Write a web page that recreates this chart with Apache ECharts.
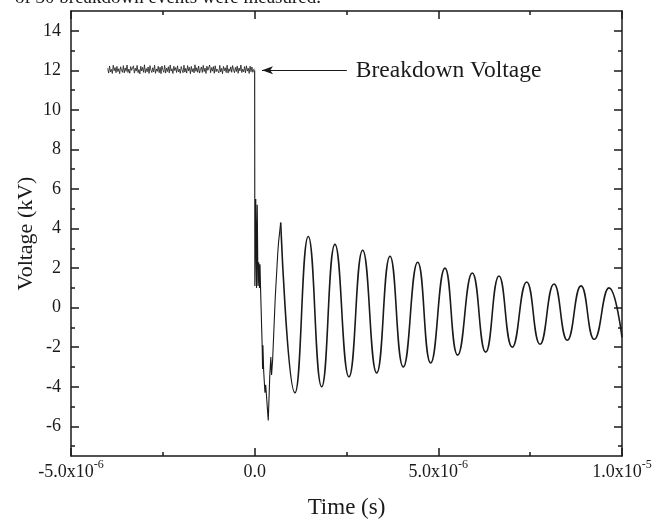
<!DOCTYPE html>
<html>
<head>
<meta charset="utf-8">
<script src="https://cdn.jsdelivr.net/npm/echarts@6/dist/echarts.min.js"></script>
<style>
  html, body { margin: 0; padding: 0; background: #fff; }
  #chart { width: 655px; height: 521px; }
</style>
</head>
<body>
<div id="chart"></div>
<script>
// time in microseconds, voltage in kV

// scope record before breakdown, sampled every noiseStep us from noiseStart
var noiseStart = -4.0;
var noiseStep = 0.025;
var noiseVolt = [
  12.10, 11.86, 12.22, 11.92, 12.05, 11.84, 12.26, 11.98, 12.14, 11.88,
  12.20, 11.94, 12.08, 11.83, 12.18, 12.02, 11.90, 12.24, 11.87, 12.12,
  11.95, 12.27, 11.89, 12.06, 11.85, 12.19, 12.00, 11.91, 12.23, 11.86,
  12.11, 11.96, 12.25, 11.88, 12.04, 11.82, 12.21, 11.97, 12.15, 11.90,
  12.28, 11.87, 12.09, 11.93, 12.17, 11.84, 12.24, 12.01, 11.89, 12.13,
  11.92, 12.26, 11.85, 12.07, 11.95, 12.20, 11.88, 12.16, 11.83, 12.22,
  12.03, 11.90, 12.25, 11.86, 12.12, 11.94, 12.18, 11.87, 12.27, 11.96,
  12.08, 11.84, 12.21, 11.99, 12.14, 11.89, 12.23, 11.92, 12.06, 11.85,
  12.19, 12.02, 11.88, 12.26, 11.91, 12.10, 11.86, 12.24, 11.97, 12.15,
  11.83, 12.20, 11.93, 12.09, 11.87, 12.28, 11.95, 12.13, 11.90, 12.22,
  11.86, 12.05, 12.17, 11.89, 12.25, 11.94, 12.11, 11.84, 12.21, 12.00,
  11.91, 12.27, 11.88, 12.14, 11.96, 12.19, 11.85, 12.23, 11.93, 12.07,
  12.16, 11.87, 12.25, 11.92, 12.10, 11.83, 12.20, 11.98, 12.13, 11.89,
  12.26, 11.86, 12.08, 11.95, 12.18, 11.90, 12.24, 12.02, 11.88, 12.15,
  11.94, 12.22, 11.85, 12.12, 11.97, 12.27, 11.89, 12.06, 11.92, 12.19,
  11.87, 12.23, 11.96, 12.11, 11.84, 12.21, 11.93, 12.17, 11.90, 12.05,
  12.08
];

// collapse and first transient
var dropTime = [0.0, 0.005, 0.03, 0.05, 0.07, 0.09, 0.11, 0.13, 0.145, 0.16,
  0.19, 0.205, 0.215, 0.225, 0.245, 0.28, 0.30, 0.37, 0.41, 0.44, 0.46, 0.49,
  0.56, 0.63, 0.65, 0.708];
var dropVolt = [12.0, 1.1, 5.5, 1.0, 5.2, 1.1, 2.3, 1.0, 2.2, 1.0,
  -1.0, -2.0, -3.1, -1.9, -3.2, -4.3, -3.9, -5.7, -3.5, -2.5, -3.4, -2.6,
  0.5, 2.8, 3.3, 4.3];

// damped ringing: peaks and troughs
var ringTime = [0.708, 1.097, 1.459, 1.824, 2.186, 2.567, 2.940, 3.322, 3.684, 4.046,
  4.438, 4.792, 5.181, 5.527, 5.924, 6.289, 6.651, 7.013, 7.405, 7.768,
  8.149, 8.511, 8.884, 9.246, 9.646, 10.0];
var ringVolt = [4.3, -4.3, 3.6, -4.0, 3.2, -3.5, 2.9, -3.3, 2.6, -3.0,
  2.3, -2.8, 2.0, -2.4, 1.75, -2.25, 1.6, -2.0, 1.3, -1.85,
  1.2, -1.65, 1.1, -1.6, 1.0, -1.5];

// axes
var xTickValues = [-5, 0, 5, 10];
var xTickMantissa = ['-5.0x10', '0.0', '5.0x10', '1.0x10'];
var xTickExp = ['-6', '', '-6', '-5'];
var yMajorTicks = [-6, -4, -2, 0, 2, 4, 6, 8, 10, 12, 14];
var yMinorTicks = [-7, -5, -3, -1, 1, 3, 5, 7, 9, 11, 13];

var arrowFrom = [0.2, 12];
var arrowTo = [2.51, 12];

var FONT = '"Liberation Serif", "Times New Roman", serif';
var INK = '#1a1a1a';

function zip(xs, ys) {
  var out = [];
  for (var i = 0; i < xs.length; i++) out.push([xs[i], ys[i]]);
  return out;
}

var noiseData = [];
for (var i = 0; i < noiseVolt.length; i++) {
  noiseData.push([noiseStart + i * noiseStep, noiseVolt[i]]);
}

function xLabel(v) {
  var idx = xTickValues.indexOf(Math.round(v));
  if (idx < 0) return '';
  var s = '{m|' + xTickMantissa[idx] + '}';
  if (xTickExp[idx]) s += '{e|' + xTickExp[idx] + '}';
  return s;
}

function lineDef(show) {
  return { show: show, onZero: false, lineStyle: { color: INK, width: 1.5 } };
}

function xAxisDef(pos, labels) {
  return {
    type: 'value', position: pos, min: -5, max: 10, interval: 5,
    axisLine: lineDef(true),
    axisTick: { show: true, inside: true, length: 8, lineStyle: { color: INK, width: 1.5 } },
    minorTick: { show: true, splitNumber: 2, length: 4, lineStyle: { color: INK, width: 1.5 } },
    splitLine: { show: false },
    minorSplitLine: { show: false },
    axisLabel: labels ? {
      show: true, margin: 3, formatter: xLabel,
      rich: {
        m: { fontFamily: FONT, fontSize: 18, color: INK, lineHeight: 22, verticalAlign: 'bottom' },
        e: { fontFamily: FONT, fontSize: 12, color: INK, lineHeight: 22, verticalAlign: 'top' }
      }
    } : { show: false }
  };
}

function yAxisDef(pos, ticks, len, showLine, labels) {
  return {
    type: 'value', position: pos, min: -7.5, max: 15,
    axisLine: lineDef(showLine),
    axisTick: { show: true, inside: true, length: len, customValues: ticks,
      lineStyle: { color: INK, width: 1.5 } },
    splitLine: { show: false },
    axisLabel: labels ? {
      show: true, customValues: ticks, margin: 10,
      fontFamily: FONT, fontSize: 18, color: INK
    } : { show: false }
  };
}

var chart = echarts.init(document.getElementById('chart'), null, { renderer: 'canvas' });

var xBottom = xAxisDef('bottom', true);
xBottom.name = 'Time (s)';
xBottom.nameLocation = 'middle';
xBottom.nameGap = 40;
xBottom.nameMoveOverlap = false;
xBottom.nameTextStyle = { fontFamily: FONT, fontSize: 23, color: INK };

var yLeft = yAxisDef('left', yMajorTicks, 8, true, true);
yLeft.name = 'Voltage (kV)';
yLeft.nameLocation = 'middle';
yLeft.nameGap = 34;
yLeft.nameMoveOverlap = false;
yLeft.nameTextStyle = { fontFamily: FONT, fontSize: 22, color: INK };

var option = {
  animation: false,
  backgroundColor: '#fff',
  grid: { left: 71, right: 33, top: 11, bottom: 65, outerBoundsMode: 'none' },
  graphic: [{
    type: 'text', left: 15, top: -11,
    style: { text: 'of 30 breakdown events were measured.', font: '19px ' + FONT, fill: INK }
  }],
  xAxis: [xBottom, xAxisDef('top', false)],
  yAxis: [
    yLeft,
    yAxisDef('left', yMinorTicks, 4, false, false),
    yAxisDef('right', yMajorTicks, 8, true, false),
    yAxisDef('right', yMinorTicks, 4, false, false)
  ],
  series: [
    {
      name: 'before', type: 'line', data: noiseData, showSymbol: false,
      lineStyle: { color: INK, width: 0.8 }, silent: true,
      markLine: {
        silent: true, symbol: ['arrow', 'none'], symbolSize: [6, 11],
        lineStyle: { color: INK, width: 1, type: 'solid' },
        label: {
          show: true, position: 'end', distance: 9,
          formatter: 'Breakdown Voltage',
          fontFamily: FONT, fontSize: 23.5, color: INK
        },
        data: [[{ coord: arrowFrom }, { coord: arrowTo }]]
      }
    },
    {
      name: 'drop', type: 'line', data: zip(dropTime, dropVolt), showSymbol: false,
      lineStyle: { color: INK, width: 1.1 }, silent: true
    },
    {
      name: 'ring', type: 'line', data: zip(ringTime, ringVolt), showSymbol: false,
      smooth: 0.5, lineStyle: { color: INK, width: 1.6 }, silent: true
    }
  ]
};

chart.setOption(option);
</script>
</body>
</html>
